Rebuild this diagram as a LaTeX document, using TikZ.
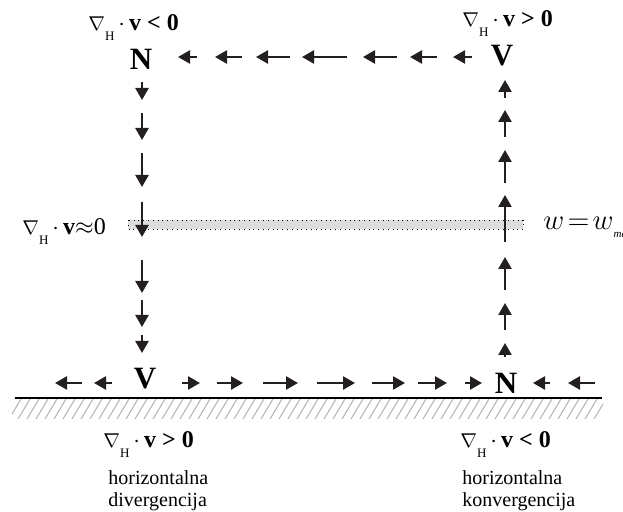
\documentclass[tikz,border=0pt]{standalone}
\usepackage{fontspec}
\setmainfont{Liberation Serif}
\usetikzlibrary{arrows.meta}
\definecolor{flowBlack}{HTML}{231F20}
\definecolor{bandGray}{HTML}{DDDDDD}
\newcommand{\divHlabel}{{\fontsize{10}{10}\selectfont$\nabla$}\raisebox{-5pt}{\fontsize{6.5}{7}\selectfont H}\,$\cdot$\,}

\begin{document}
\begin{tikzpicture}[x=0.5pt, y=-0.5pt,
    every node/.style={inner sep=0pt},
    flow/.style={-{Triangle[length=6pt, width=6.5pt]}, line width=1.2pt, color=flowBlack},
    pole/.style={font=\fontsize{15.5}{17}\selectfont\bfseries},
    lbl/.style={anchor=base west, font=\fontsize{12}{14}\selectfont},
    note/.style={anchor=base west, font=\fontsize{10}{12}\selectfont}]
  \useasboundingbox (0,0) rectangle (623,512);

  % ground with hatching
  \begin{scope}
    \clip (12,399) rectangle (603,419);
    \foreach \x in {0,9,...,600}
      \draw[gray!60, line width=0.5pt] (\x,419) -- (\x+12,399);
  \end{scope}
  \draw[line width=0.8pt] (15,398) -- (602,398);

  % level of maximal vertical velocity
  \draw[dotted, fill=bandGray, line width=0.4pt] (128,220) rectangle (523,229);

  % centres
  \node[pole] (Ntop) at (141,59) {N};
  \node[pole] (Vtop) at (502,56) {V};
  \node[pole] (Vbot) at (145,379) {V};
  \node[pole] (Nbot) at (506,383) {N};

  % labels
  \node[lbl] (divNtop) at (88,31) {\divHlabel\textbf{v < 0}};
  \node[lbl] (divVtop) at (462,27) {\divHlabel\textbf{v > 0}};
  \node[lbl] (divMid) at (22,235) {\divHlabel\textbf{v}$\approx$0};
  \node[lbl] (divVbot) at (103,448) {\divHlabel\textbf{v > 0}};
  \node[lbl] (divNbot) at (460,448) {\divHlabel\textbf{v < 0}};
  \node[anchor=base west] (wmax) at (543,230) {\fontsize{14}{16}\selectfont$w\!=\!w$\raisebox{-4pt}{\fontsize{5.5}{6}\selectfont\itshape maks}};
  \node[note] (divA) at (108,485) {horizontalna};
  \node[note] (divB) at (108,507) {divergencija};
  \node[note] (convA) at (462,485) {horizontalna};
  \node[note] (convB) at (462,507) {konvergencija};

  % upper outflow (V -> N)
  \foreach \a/\b in {197/178, 242/215, 290/256, 347/302, 397/363, 437/410, 472/453}
    \draw[flow] (\a,57) -- (\b,57);
  % descending branch
  \foreach \a/\b in {82/100, 113/140, 153/187, 202/237, 260/293, 300/327, 335/353}
    \draw[flow] (142,\a) -- (142,\b);
  % ascending branch
  \foreach \a/\b in {98/80, 137/110, 183/150, 242/195, 290/257, 330/303, 357/343}
    \draw[flow] (505,\a) -- (505,\b);
  % surface flow
  \foreach \a/\b in {82/55, 112/94, 182/200, 217/243, 263/298, 317/355, 372/405, 418/447, 465/482, 550/533, 595/568}
    \draw[flow] (\a,383) -- (\b,383);
\end{tikzpicture}
\end{document}
